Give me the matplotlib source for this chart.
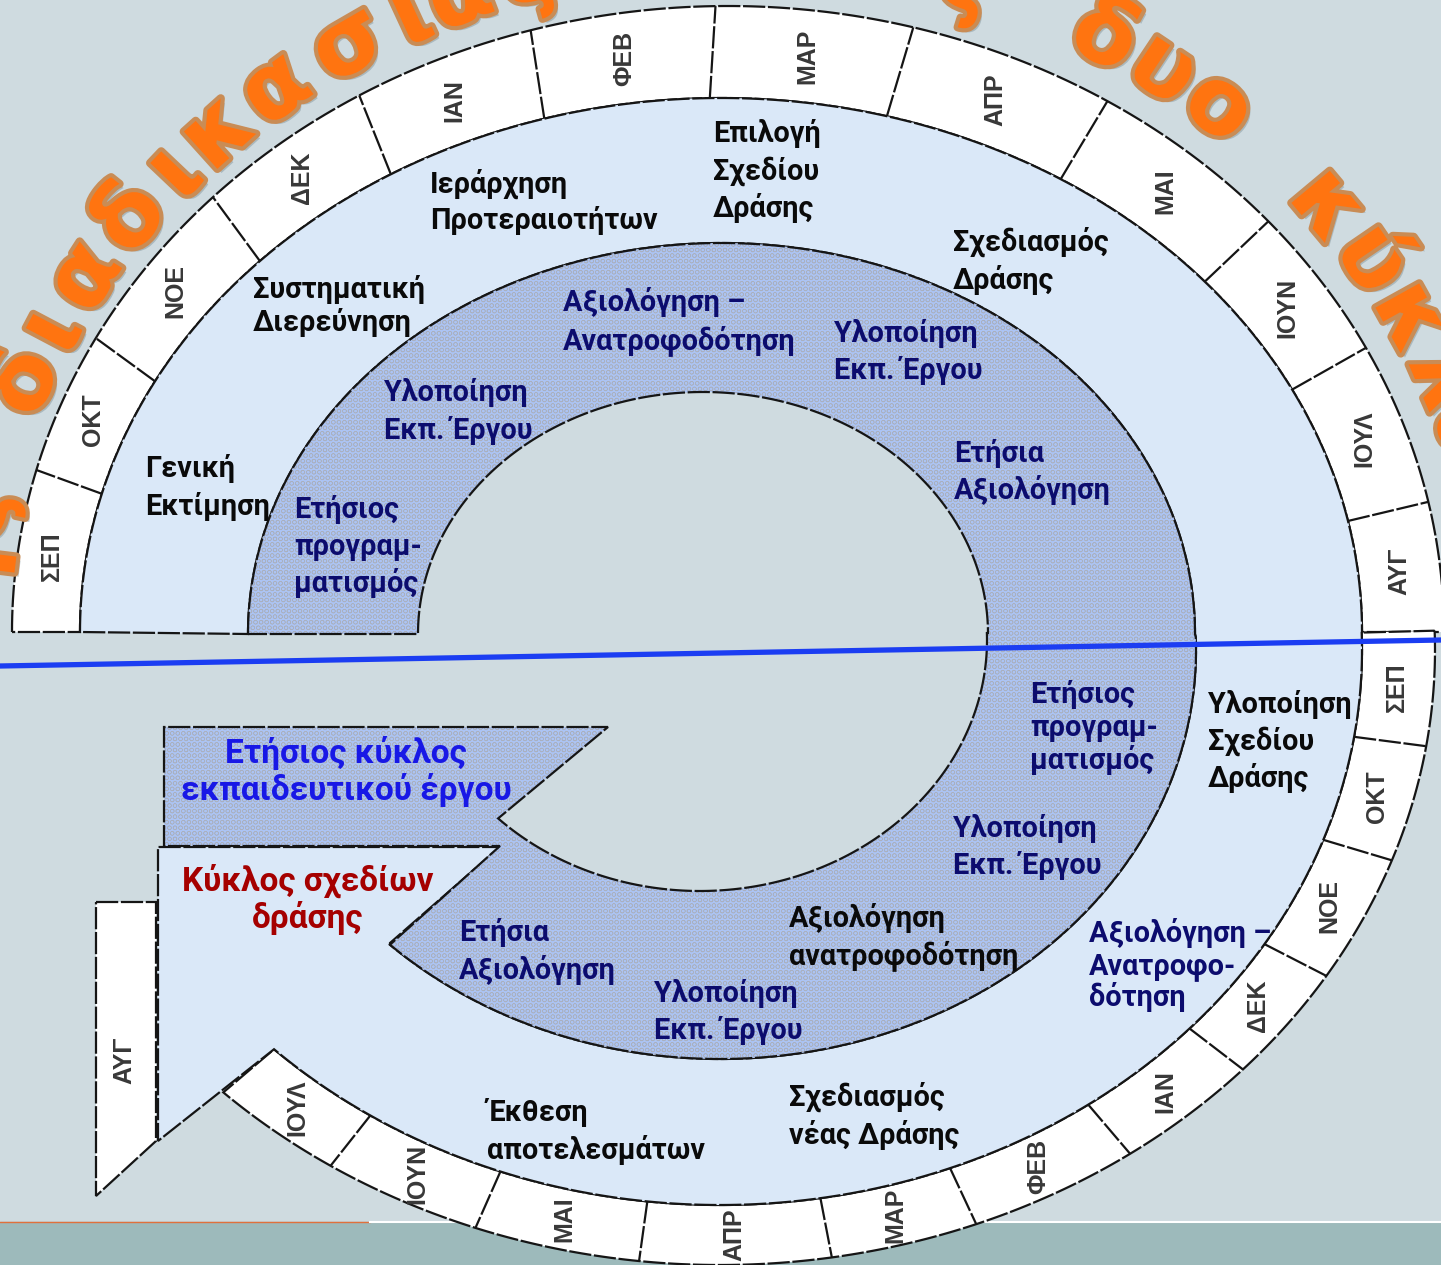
import numpy as np
import matplotlib.pyplot as plt
from matplotlib.patches import Polygon, Rectangle
import matplotlib.patheffects as pe

W, H = 1441, 1265

# month cells of the two rings
months_top = ["ΣΕΠ", "ΟΚΤ", "ΝΟΕ", "ΔΕΚ", "ΙΑΝ", "ΦΕΒ", "ΜΑΡ", "ΑΠΡ", "ΜΑΙ", "ΙΟΥΝ", "ΙΟΥΛ", "ΑΥΓ"]
top_edges = [180, 165, 152, 136, 121, 106, 91, 75, 58, 41, 27, 12, 0]
months_bot = ["ΣΕΠ", "ΟΚΤ", "ΝΟΕ", "ΔΕΚ", "ΙΑΝ", "ΦΕΒ", "ΜΑΡ", "ΑΠΡ", "ΜΑΙ", "ΙΟΥΝ", "ΙΟΥΛ"]
bot_edges = [-1.8, 9, 20, 32, 43, 55, 69, 81, 96.5, 110, 123, 134]
last_month = "ΑΥΓ"

# labels: lines, x, y of first line, line gap
black_labels = [
    ("Γενική\nΕκτίμηση", 145, 468, 38),
    ("Συστηματική\nΔιερεύνηση", 253, 289, 33),
    ("Ιεράρχηση\nΠροτεραιοτήτων", 430, 184, 36),
    ("Επιλογή\nΣχεδίου\nΔράσης", 713, 133, 37.5),
    ("Σχεδιασμός\nΔράσης", 953, 242, 38),
    ("Υλοποίηση\nΣχεδίου\nΔράσης", 1208, 704, 37),
    ("Αξιολόγηση\nανατροφοδότηση", 789, 918, 37),
    ("Σχεδιασμός\nνέας Δράσης", 789, 1097, 38),
    ("Έκθεση\nαποτελεσμάτων", 487, 1112, 38),
]
navy_labels = [
    ("Αξιολόγηση –\nΑνατροφοδότηση", 563, 302, 38),
    ("Υλοποίηση\nΕκπ. Έργου", 384, 392, 38),
    ("Ετήσιος\nπρογραμ-\nματισμός", 294, 509, 37),
    ("Υλοποίηση\nΕκπ. Έργου", 834, 333, 37),
    ("Ετήσια\nΑξιολόγηση", 954, 453, 37),
    ("Ετήσιος\nπρογραμ-\nματισμός", 1030, 694, 33),
    ("Υλοποίηση\nΕκπ. Έργου", 953, 828, 37),
    ("Ετήσια\nΑξιολόγηση", 459, 932, 38),
    ("Υλοποίηση\nΕκπ. Έργου", 654, 993, 37),
    ("Αξιολόγηση –\nΑνατροφο-\nδότηση", 1089, 933, 32),
]
cycle_titles = [
    ("Ετήσιος κύκλος\nεκπαιδευτικού έργου", 346, 754, 37, "#1818e6"),
    ("Κύκλος σχεδίων\nδράσης", 308, 882, 37, "#a50000"),
]

# orange title letters on the arc (angle along the arc)
title_chars = list("ης") + list("διαδικασίας") + ["ς"] + list("δυο") + list("κύκλων")
title_t = [173.1, 168, 156.9, 152.2, 147.3, 141.5, 136.5, 132, 126.5, 120, 114.8,
           110.9, 105.8, 72.6, 61.4, 56.3, 51.2, 39.9, 34.4, 29, 23.5, 18, 12.5]

# ellipses (cx, cy, a, b)
UP_MO = (728, 632, 716, 626)
UP_MI = (721, 632, 641, 534)
UP_DO = (721.5, 634, 473.5, 391)
UP_DI = (703, 634, 285, 242)
LO_MO = (720, 650, 715, 615)
LO_MI = (720, 650, 642, 555)
LO_DO = (720, 650, 476, 409)
LO_DI = (700, 640, 287, 251)
TITLE_E = (735, 662, 772, 712)


def up(e, t):
    t = np.radians(np.atleast_1d(t))
    return np.column_stack([e[0] + e[2] * np.cos(t), e[1] - e[3] * np.sin(t)])


def dn(e, t):
    t = np.radians(np.atleast_1d(t))
    return np.column_stack([e[0] + e[2] * np.cos(t), e[1] + e[3] * np.sin(t)])


def arc(f, e, t0, t1, n=240):
    return f(e, np.linspace(t0, t1, n))


plt.rcParams['font.family'] = ['Roboto', 'DejaVu Sans']
plt.rcParams['hatch.linewidth'] = 0.4

fig = plt.figure(figsize=(W / 100, H / 100), dpi=100, facecolor='#cfdbe0')
ax = fig.add_axes([0, 0, 1, 1])
ax.set_xlim(0, W)
ax.set_ylim(H, 0)
ax.axis('off')

LS = (0, (10, 1.2))
edge = dict(edgecolor='#151515', lw=1.6, linestyle=LS)

# bottom bar
ax.add_patch(Rectangle((0, 1222), W, 45, color='#9dbabb', zorder=0.5))
ax.plot([0, 370], [1222, 1222], color='#e0703c', lw=1, zorder=0.6)
ax.plot([370, W], [1222, 1222], color='white', lw=1.5, zorder=0.6)

# month rings
ring_up = np.vstack([arc(up, UP_MO, 180, 0), arc(up, UP_MI, 0, 180)])
ring_lo = np.vstack([arc(dn, LO_MO, -1.8, 134), arc(dn, LO_MI, 134, -1.8)])
for pts in (ring_up, ring_lo):
    ax.add_patch(Polygon(pts, closed=True, facecolor='white', zorder=2, **edge))
for t in top_edges[1:-1]:
    p = np.vstack([up(UP_MI, t), up(UP_MO, t)])
    ax.plot(p[:, 0], p[:, 1], color='#151515', lw=1.6, linestyle=LS, zorder=2.1)
for t in bot_edges[1:-1]:
    p = np.vstack([dn(LO_MI, t), dn(LO_MO, t)])
    ax.plot(p[:, 0], p[:, 1], color='#151515', lw=1.6, linestyle=LS, zorder=2.1)

mfont = dict(family=['Liberation Sans', 'DejaVu Sans'], fontsize=18, color='#383838',
             fontweight='bold', rotation=90, ha='center', va='center', zorder=5)
for name, t0, t1 in zip(months_top, top_edges[:-1], top_edges[1:]):
    tm = (t0 + t1) / 2
    p = (up(UP_MI, tm) + up(UP_MO, tm))[0] / 2
    ax.text(p[0], p[1], name, **mfont)
for name, t0, t1 in zip(months_bot, bot_edges[:-1], bot_edges[1:]):
    tm = (t0 + t1) / 2
    p = (dn(LO_MI, tm) + dn(LO_MO, tm))[0] / 2
    ax.text(p[0], p[1], name, **mfont)

# last month strip (arrow feather)
strip = [(96, 902), (156, 902), (156, 1141), (96, 1196)]
ax.add_patch(Polygon(strip, closed=True, facecolor='white', zorder=2, **edge))
ax.text(124, 1060, last_month, **mfont)

# light blue band
band = np.vstack([arc(up, UP_MI, 180, 0), arc(dn, LO_MI, -1.8, 134),
                  [(158, 1141), (158, 847), (500, 847), (390, 943)],
                  arc(dn, LO_DO, 133.9, -1.8), arc(up, UP_DO, 0, 180)])
ax.add_patch(Polygon(band, closed=True, facecolor='#dae8f8', zorder=3, **edge))

# dotted spiral
dots = np.vstack([arc(up, UP_DO, 180, 0), arc(dn, LO_DO, -1.8, 133.9),
                  [(500, 846), (164, 846), (164, 727), (608, 727)],
                  arc(dn, LO_DI, 134.7, -1.8), arc(up, UP_DI, 0, 180)])
ax.add_patch(Polygon(dots, closed=True, facecolor='#acc4f4', edgecolor='none', zorder=3.2))
ax.add_patch(Polygon(dots, closed=True, fill=False, hatch='OOO', edgecolor='#a9b0bf',
                     lw=0, zorder=3.3))
ax.add_patch(Polygon(dots, closed=True, fill=False, zorder=3.4, **edge))


def block(text, x, y, gap, color, ha='left', size=20.8):
    for i, line in enumerate(text.split('\n')):
        ax.text(x, y + i * gap + 9, line, fontsize=size, fontweight='bold', color=color,
                ha=ha, va='baseline', zorder=6)


for txt, x, y, g in black_labels:
    block(txt, x, y, g, '#0a0a0a')
for txt, x, y, g in navy_labels:
    block(txt, x, y, g, '#0c0c6e')
for txt, x, y, g, c in cycle_titles:
    block(txt, x, y, g, c, ha='center', size=24)

# dividing line between the two cycles
ax.plot([0, W], [666, 640], color='#1b3df2', lw=3.8, zorder=7)

# orange arc title
fx = [pe.SimplePatchShadow(offset=(3, -3), shadow_rgbFace='#7f9096', alpha=0.45),
      pe.Stroke(linewidth=6, foreground='#c98c55'), pe.Normal()]
for ch, t in zip(title_chars, title_t):
    p = up(TITLE_E, t)[0]
    ax.text(p[0], p[1], ch, fontsize=66, fontweight='bold', color='#ff7410',
            family=['DejaVu Sans'], ha='center', va='center', rotation=t - 90,
            rotation_mode='anchor', zorder=8, path_effects=fx)

fig.savefig('out.png', dpi=100, facecolor=fig.get_facecolor())
